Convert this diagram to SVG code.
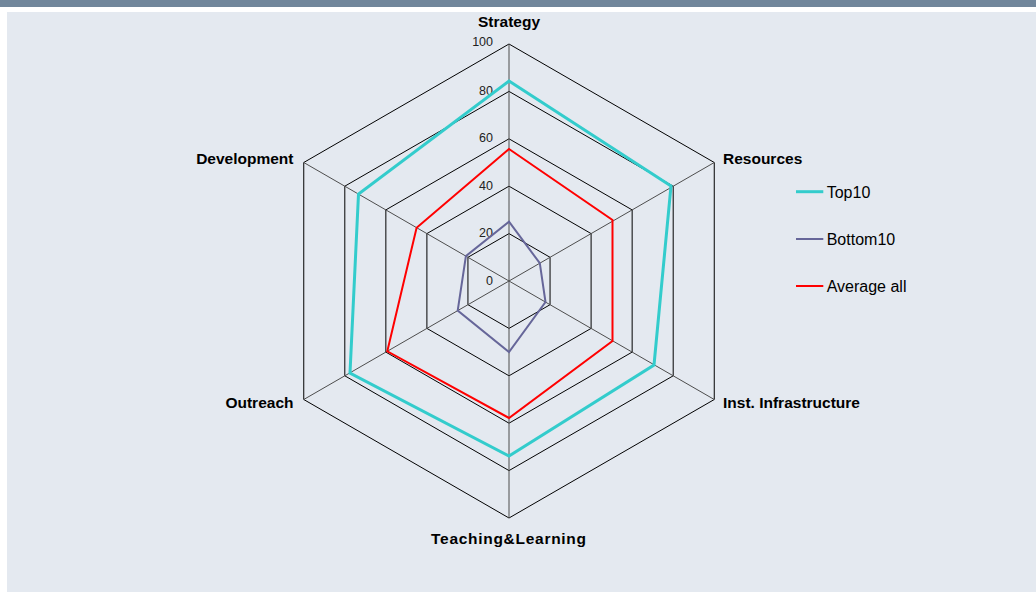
<svg xmlns="http://www.w3.org/2000/svg" width="1036" height="592" viewBox="0 0 1036 592">
<style>
.grid{fill:none;stroke:#000;stroke-width:1}
.spoke{stroke:#4d4d4d;stroke-width:1}
.cat{font-family:"Liberation Sans",Arial,sans-serif;font-weight:bold;font-size:15.5px;fill:#000}
.tick{font-family:"Liberation Sans",Arial,sans-serif;font-size:12.5px;fill:#222;text-anchor:end}
.leg{font-family:"Liberation Sans",Arial,sans-serif;font-size:16px;fill:#000}
.top{fill:none;stroke:#33cccc;stroke-width:3;stroke-linejoin:miter}
.bot{fill:none;stroke:#666699;stroke-width:2}
.avg{fill:none;stroke:#ff0000;stroke-width:2}
</style>
<rect x="0" y="0" width="1036" height="592" fill="#ffffff"/>
<rect x="0" y="0" width="1036" height="7" fill="#71869b"/>
<rect x="7" y="12" width="1029" height="580" fill="#e4e9f0"/>
<g id="grid">
<polygon class="grid" points="509,44 714.25,162.5 714.25,399.5 509,518 303.75,399.5 303.75,162.5"/>
<polygon class="grid" points="509,91.4 673.2,186.2 673.2,375.8 509,470.6 344.8,375.8 344.8,186.2"/>
<polygon class="grid" points="509,138.8 632.15,209.9 632.15,352.1 509,423.2 385.85,352.1 385.85,209.9"/>
<polygon class="grid" points="509,186.2 591.1,233.6 591.1,328.4 509,375.8 426.9,328.4 426.9,233.6"/>
<polygon class="grid" points="509,233.6 550.05,257.3 550.05,304.7 509,328.4 467.95,304.7 467.95,257.3"/>
<line class="spoke" x1="509" y1="281" x2="509" y2="44"/>
<line class="spoke" x1="509" y1="281" x2="714.25" y2="162.5"/>
<line class="spoke" x1="509" y1="281" x2="714.25" y2="399.5"/>
<line class="spoke" x1="509" y1="281" x2="509" y2="518"/>
<line class="spoke" x1="509" y1="281" x2="303.75" y2="399.5"/>
<line class="spoke" x1="509" y1="281" x2="303.75" y2="162.5"/>
</g>
<g id="ticks">
<text class="tick" x="493" y="46">100</text>
<text class="tick" x="493" y="94.5">80</text>
<text class="tick" x="493" y="142">60</text>
<text class="tick" x="493" y="189.5">40</text>
<text class="tick" x="493" y="237">20</text>
<text class="tick" x="493" y="284.5">0</text>
</g>
<g id="series">
<polygon class="top" points="509,81 671,186 654,365 509,456 350,373 358.5,194"/>
<polygon class="bot" points="509,221.7 539.8,263.2 545.5,302 509,352 457.7,310.6 465.9,256.1"/>
<polygon class="avg" points="509,149 612.5,220 612.5,341 509,418 387.3,351.3 416.6,227.7"/>
</g>
<g id="labels">
<text class="cat" x="509" y="27" text-anchor="middle">Strategy</text>
<text class="cat" x="723" y="164.3">Resources</text>
<text class="cat" x="723" y="408.3">Inst. Infrastructure</text>
<text class="cat" x="431" y="544.3" textLength="155" lengthAdjust="spacing">Teaching&amp;Learning</text>
<text class="cat" x="293.5" y="408.3" text-anchor="end">Outreach</text>
<text class="cat" x="293.5" y="164.3" text-anchor="end">Development</text>
</g>
<g id="legend">
<line x1="796" y1="191.7" x2="823.3" y2="191.7" stroke="#33cccc" stroke-width="3"/>
<text class="leg" x="826.7" y="197.5">Top10</text>
<line x1="796" y1="239" x2="823.3" y2="239" stroke="#666699" stroke-width="2"/>
<text class="leg" x="826.7" y="244.8">Bottom10</text>
<line x1="796" y1="286" x2="823.3" y2="286" stroke="#ff0000" stroke-width="2"/>
<text class="leg" x="826.7" y="291.8">Average all</text>
</g>
</svg>
